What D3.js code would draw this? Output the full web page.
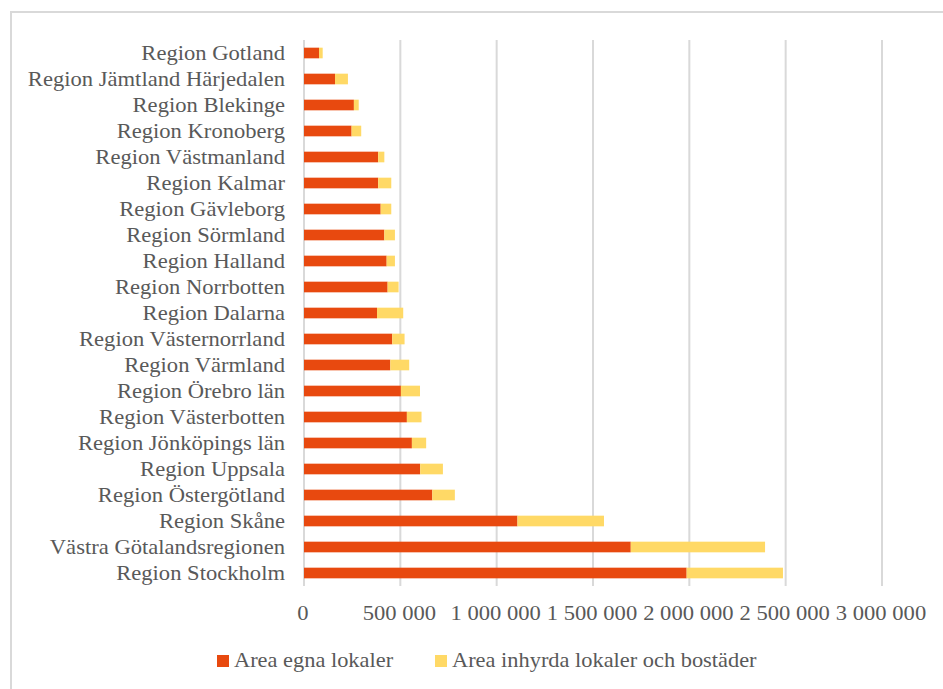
<!DOCTYPE html>
<html>
<head>
<meta charset="utf-8">
<script src="https://cdn.jsdelivr.net/npm/d3@7"></script>
<style>
  html, body { margin: 0; padding: 0; background: #fff; }
  svg { display: block; }
  text { font-family: "Liberation Serif", "Times New Roman", serif; fill: #595959; }
</style>
</head>
<body>
<svg id="chart" width="943" height="689"></svg>
<script>
// Categories, top to bottom as drawn
const regions = [
  "Region Gotland",
  "Region Jämtland Härjedalen",
  "Region Blekinge",
  "Region Kronoberg",
  "Region Västmanland",
  "Region Kalmar",
  "Region Gävleborg",
  "Region Sörmland",
  "Region Halland",
  "Region Norrbotten",
  "Region Dalarna",
  "Region Västernorrland",
  "Region Värmland",
  "Region Örebro län",
  "Region Västerbotten",
  "Region Jönköpings län",
  "Region Uppsala",
  "Region Östergötland",
  "Region Skåne",
  "Västra Götalandsregionen",
  "Region Stockholm"
];
// Area egna lokaler
const egnaLokaler = [
  78000, 161000, 259000, 247000, 385000, 385000, 398000, 417000, 429000, 434000,
  379000, 458000, 448000, 503000, 534000, 560000, 603000, 666000, 1108000, 1696000, 1986000
];
// Area inhyrda lokaler och bostäder
const inhyrda = [
  19000, 67000, 25000, 50000, 32000, 68000, 55000, 55000, 43000, 57000,
  136000, 64000, 98000, 99000, 76000, 74000, 118000, 117000, 449000, 697000, 500000
];
const seriesNames = ["Area egna lokaler", "Area inhyrda lokaler och bostäder"];
const seriesColors = ["#e8490f", "#ffd966"];
const xTicks = [0, 500000, 1000000, 1500000, 2000000, 2500000, 3000000];

const svg = d3.select("#chart");

// outer frame
svg.append("rect")
  .attr("x", 11).attr("y", 12)
  .attr("width", 1000).attr("height", 1000)
  .attr("fill", "none").attr("stroke", "#d9d9d9").attr("stroke-width", 2);

const x = d3.scaleLinear().domain([0, 3000000]).range([304, 882]);
const y = d3.scaleBand().domain(regions).range([40, 586])
  .paddingInner(0.59).paddingOuter(0.295);

const fmt = v => d3.format(",")(v).replace(/,/g, " ");

// gridlines
svg.append("g").selectAll("line").data(xTicks).join("line")
  .attr("x1", d => x(d)).attr("x2", d => x(d))
  .attr("y1", 40).attr("y2", 586)
  .attr("stroke", "#d9d9d9").attr("stroke-width", 2);

// stacked bars
const rows = regions.map((r, i) => ({ region: r, a: egnaLokaler[i], b: inhyrda[i] }));
const stack = d3.stack().keys(["a", "b"])(rows);
svg.append("g").selectAll("g").data(stack).join("g")
  .attr("fill", (d, i) => seriesColors[i])
  .selectAll("rect").data(d => d).join("rect")
  .attr("x", d => x(d[0]))
  .attr("width", d => x(d[1]) - x(d[0]))
  .attr("y", d => y(d.data.region))
  .attr("height", y.bandwidth());

// category labels
const yl = svg.append("g").selectAll("g").data(regions).join("g")
  .attr("transform", d => `translate(285,${y(d) + y.bandwidth() / 2 + 7}) scale(1.13,1)`);
yl.append("text").attr("text-anchor", "end").attr("font-size", 20).text(d => d);

// x tick labels
const xl = svg.append("g").selectAll("g").data(xTicks).join("g")
  .attr("transform", d => `translate(${x(d) - 1},620) scale(1.13,1)`);
xl.append("text").attr("text-anchor", "middle").attr("font-size", 20).text(d => fmt(d));

// legend
const legendX = [217, 435];
const lg = svg.append("g").selectAll("g").data(seriesNames).join("g");
lg.append("rect")
  .attr("x", (d, i) => legendX[i]).attr("y", 655)
  .attr("width", 12).attr("height", 12)
  .attr("fill", (d, i) => seriesColors[i]);
lg.append("g")
  .attr("transform", (d, i) => `translate(${legendX[i] + 17},667) scale(1.12,1)`)
  .append("text").attr("font-size", 20).text(d => d);
</script>
</body>
</html>
